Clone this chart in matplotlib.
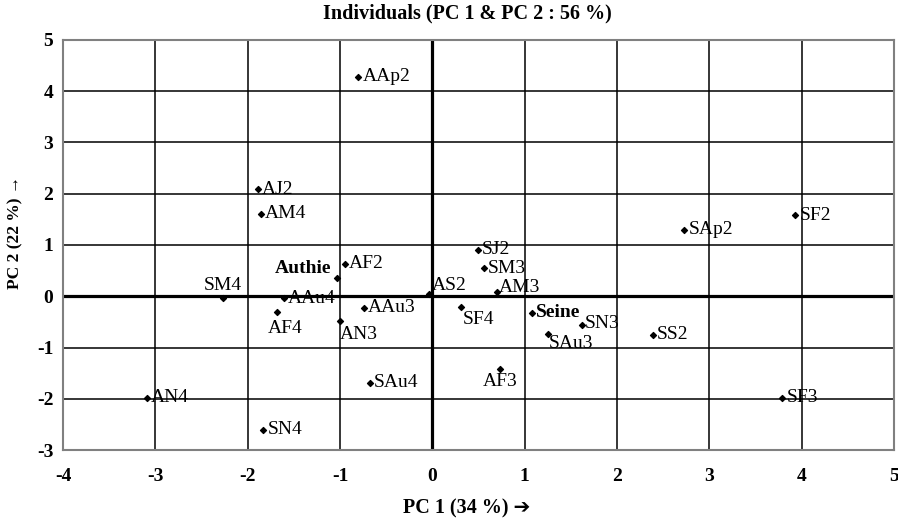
import matplotlib
matplotlib.use("Agg")
import matplotlib.pyplot as plt

# PCA scores for individuals (PC 1, PC 2)
names = ["AAp2", "AJ2", "AM4", "Authie", "AF2", "SM4", "AAu4", "AF4", "AAu3", "AN3",
         "AS2", "SJ2", "SM3", "AM3", "SF4", "Seine", "SN3", "SAu3", "SS2", "SAp2",
         "SF2", "SAu4", "AN4", "SN4", "AF3", "SF3"]
pc1 = [-0.80, -1.89, -1.86, -1.03, -0.95, -2.27, -1.61, -1.68, -0.74, -1.00,
       -0.04, 0.49, 0.56, 0.70, 0.31, 1.08, 1.62, 1.25, 2.39, 2.73,
       3.93, -0.68, -3.09, -1.83, 0.73, 3.79]
pc2 = [4.28, 2.09, 1.61, 0.35, 0.63, -0.03, -0.04, -0.30, -0.22, -0.48,
       0.05, 0.91, 0.55, 0.08, -0.20, -0.32, -0.56, -0.73, -0.75, 1.30,
       1.58, -1.69, -1.98, -2.60, -1.42, -1.98]
bold_names = ["Authie", "Seine"]

# label placement: offset in points and alignment
label_pos = {
    "SM4": ((0, 3), "center", "bottom"),
    "AF4": ((-7, -6), "left", "top"),
    "AN3": ((0, -4), "left", "top"),
    "AF3": ((0, -3), "center", "top"),
    "SF4": ((1, -3), "left", "top"),
    "SAu3": ((1, -1), "left", "top"),
    "Authie": ((-4, 1), "right", "bottom"),
    "AS2": ((2, 0), "left", "bottom"),
    "AM3": ((1, -3), "left", "bottom"),
    "SN3": ((2, 1), "left", "center"),
}

font = ["Liberation Serif", "DejaVu Sans"]
plt.rcParams["font.family"] = font
plt.rcParams["axes.unicode_minus"] = False

fig = plt.figure(figsize=(8.98, 5.24), dpi=100)
ax = fig.add_axes([0.0702, 0.1412, 0.9253, 0.7825])

ax.set_xlim(-4, 5)
ax.set_ylim(-3, 5)
ax.set_xticks(range(-4, 6))
ax.set_yticks(range(-3, 6))
ax.grid(True, color="black", linewidth=1.1)
ax.set_axisbelow(True)
ax.axhline(0, color="black", linewidth=2.3, zorder=1)
ax.axvline(0, color="black", linewidth=2.3, zorder=1)
for side in ["left", "right", "top", "bottom"]:
    ax.spines[side].set_color("#808080")
    ax.spines[side].set_linewidth(1.5)
ax.tick_params(length=0, labelsize=14)
ax.tick_params(axis="x", pad=13)
ax.tick_params(axis="y", pad=7)
for lab in ax.get_xticklabels() + ax.get_yticklabels():
    lab.set_fontweight("bold")

ax.scatter(pc1, pc2, marker="D", s=9, color="black", zorder=3)

for n, x, y in zip(names, pc1, pc2):
    off, ha, va = label_pos.get(n, ((3, 0), "left", "center"))
    ax.annotate(n, (x, y), xytext=off, textcoords="offset points",
                ha=ha, va=va, fontsize=14,
                fontweight="bold" if n in bold_names else "normal", zorder=4)

fig.text(0.52, 0.975, "Individuals (PC 1 & PC 2 : 56 %)", ha="center", va="center",
         fontsize=14.5, fontweight="bold")
fig.text(0.52, 0.03, "PC 1 (34 %) \u2794", ha="center", va="center",
         fontsize=14.5, fontweight="bold")
fig.text(0.017, 0.557, "PC 2 (22 %) \u2192", ha="center", va="center", rotation=90,
         fontsize=12.5, fontweight="bold")

fig.savefig("out.png", dpi=100)
